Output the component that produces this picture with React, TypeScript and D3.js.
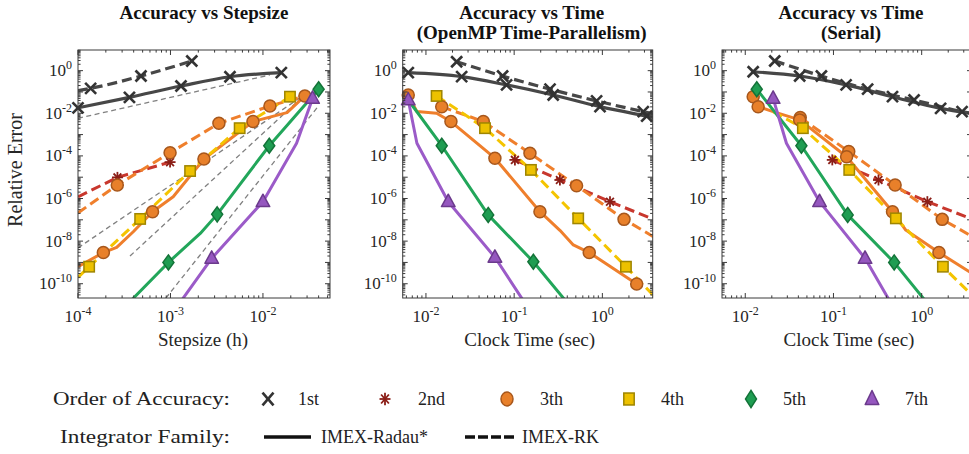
import React from "react";
import * as d3 from "d3";

// [x, y, hasMarker]
type Pt = [number, number, number];

const panelTitles: string[][] = [
  ["Accuracy vs Stepsize"],
  ["Accuracy vs Time", "(OpenMP Time-Parallelism)"],
  ["Accuracy vs Time", "(Serial)"],
];
const xAxisLabels = ["Stepsize (h)", "Clock Time (sec)", "Clock Time (sec)"];
const yAxisLabel = "Relative Error";
const xTickValues: number[][] = [
  [1e-4, 1e-3, 1e-2],
  [1e-2, 1e-1, 1e0],
  [1e-2, 1e-1, 1e0],
];
const xTickExp: string[][] = [
  ["-4", "-3", "-2"],
  ["-2", "-1", "0"],
  ["-2", "-1", "0"],
];
const yTickValues = [1e0, 1e-2, 1e-4, 1e-6, 1e-8, 1e-10];
const yTickExp = ["0", "-2", "-4", "-6", "-8", "-10"];

const orderNames = ["1st", "2nd", "3th", "4th", "5th", "7th"];
const familyNames = ["IMEX-Radau*", "IMEX-RK"];
const legendTitles = ["Order of Accuracy:", "Integrator Family:"];

// ---------- Panel 1: error vs stepsize ----------
const p1_o1_radau: Pt[] = [[1e-4, 1.8e-2, 1], [3.6e-4, 5.6e-2, 1], [1.3e-3, 0.19, 1], [4.4e-3, 0.52, 1], [1.58e-2, 0.81, 1]];
const p1_o1_rk: Pt[] = [[1e-4, 0.115, 0], [1.37e-4, 0.148, 1], [4.8e-4, 0.56, 1], [1.7e-3, 2.85, 1]];
const p1_o2_rk: Pt[] = [[1e-4, 1.2e-6, 0], [2.67e-4, 9.8e-6, 1], [9.9e-4, 5.1e-5, 1]];
const p1_o3_radau: Pt[] = [[1e-4, 6.3e-10, 0], [1.88e-4, 2.9e-9, 1], [2.62e-4, 5.1e-9, 0], [3.96e-4, 2.75e-8, 0], [6.4e-4, 2.4e-7, 1], [1.07e-3, 1.2e-6, 0], [2.3e-3, 7.1e-5, 1], [7.8e-3, 4.1e-3, 1], [1.82e-2, 1.07e-2, 0], [2.84e-2, 6.5e-2, 1]];
const p1_o3_rk: Pt[] = [[1e-4, 2.1e-7, 0], [2.66e-4, 4.3e-6, 1], [9.9e-4, 1.4e-4, 1], [3.34e-3, 3.4e-3, 1], [1.19e-2, 2.2e-2, 1], [2.84e-2, 6.5e-2, 0]];
const p1_o4_rk: Pt[] = [[1e-4, 2.0e-10, 0], [1.32e-4, 6.3e-10, 1], [4.7e-4, 1.1e-7, 1], [1.63e-3, 1.95e-5, 1], [5.6e-3, 2.0e-3, 1], [1.96e-2, 6.0e-2, 1]];
const p1_o5_radau: Pt[] = [[3.5e-4, 1.2e-11, 0], [9.5e-4, 1.0e-9, 1], [2.1e-3, 2.3e-8, 0], [3.2e-3, 1.8e-7, 1], [1.17e-2, 3.0e-4, 1], [4.0e-2, 0.135, 1]];
const p1_o7_radau: Pt[] = [[1.25e-3, 1.2e-11, 0], [2.79e-3, 1.55e-9, 1], [1.0e-2, 7.1e-7, 1], [2.31e-2, 3.9e-4, 0], [3.44e-2, 5.0e-2, 1]];
// reference slope lines (start, end)
const p1_refLines: [number, number][][] = [
  [[1e-4, 5.8e-3], [1.19e-2, 0.63]],
  [[1e-4, 4.8e-9], [2.5e-2, 5.2e-2]],
  [[3.65e-4, 2.0e-9], [2.5e-2, 4.5e-2]],
  [[8.9e-4, 2.1e-11], [3.84e-2, 1.8e-2]],
];

// ---------- Panel 2: error vs time (OpenMP) ----------
const p2_o1_radau: Pt[] = [[6.3e-3, 0.805, 1], [2.54e-2, 0.525, 1], [8.2e-2, 0.214, 1], [0.277, 7.2e-2, 1], [0.94, 2.04e-2, 1], [3.18, 7.4e-3, 1], [4.2, 5.9e-3, 0]];
const p2_o1_rk: Pt[] = [[2.23e-2, 2.63, 1], [7.4e-2, 0.56, 1], [0.255, 0.135, 1], [0.86, 3.8e-2, 1], [2.91, 1.2e-2, 1], [4.2, 8.7e-3, 0]];
const p2_o2_rk: Pt[] = [[0.102, 6.5e-5, 1], [0.33, 7.4e-6, 1], [1.22, 7.1e-7, 1], [4.2, 8.9e-8, 0]];
const p2_o3_radau: Pt[] = [[6.3e-3, 7.2e-2, 1], [7.9e-3, 1.2e-2, 0], [1.32e-2, 1.0e-2, 0], [1.92e-2, 4.1e-3, 1], [6.05e-2, 7.8e-5, 1], [0.196, 2.4e-7, 1], [0.33, 3.2e-8, 0], [0.468, 6.6e-9, 0], [0.71, 2.9e-9, 1], [2.45, 9.8e-11, 1]];
const p2_o3_rk: Pt[] = [[1.51e-2, 2.04e-2, 1], [4.47e-2, 4.1e-3, 1], [0.151, 1.32e-4, 1], [0.51, 4.0e-6, 1], [1.76, 1.05e-7, 1], [4.2, 1.26e-8, 0]];
const p2_o4_rk: Pt[] = [[1.32e-2, 6.5e-2, 1], [4.67e-2, 2.0e-3, 1], [0.155, 2.2e-5, 1], [0.532, 1.17e-7, 1], [1.85, 6.3e-10, 1], [4.2, 1.8e-11, 0]];
const p2_o5_radau: Pt[] = [[6.3e-3, 4.2e-2, 0], [1.51e-2, 3.0e-4, 1], [5.08e-2, 1.7e-7, 1], [0.165, 1.07e-9, 1], [0.405, 1.2e-11, 0]];
const p2_o7_radau: Pt[] = [[6.3e-3, 4.2e-2, 1], [7.9e-3, 3.9e-4, 0], [1.79e-2, 7.1e-7, 1], [6.05e-2, 1.74e-9, 1], [0.132, 1.26e-11, 0]];

// ---------- Panel 3: error vs time (serial) ----------
const p3_o1_radau: Pt[] = [[1.23e-2, 0.89, 1], [4.14e-2, 0.56, 1], [0.139, 0.214, 1], [0.467, 6.0e-2, 1], [1.64, 1.7e-2, 1], [4.2, 8.9e-3, 0]];
const p3_o1_rk: Pt[] = [[2.16e-2, 2.85, 1], [7.3e-2, 0.56, 1], [0.244, 0.135, 1], [0.82, 4.2e-2, 1], [2.87, 1.2e-2, 1], [4.2, 8.9e-3, 0]];
const p3_o2_rk: Pt[] = [[9.7e-2, 6.5e-5, 1], [0.324, 7.4e-6, 1], [1.16, 7.1e-7, 1], [4.2, 8.9e-8, 0]];
const p3_o3_radau: Pt[] = [[1.23e-2, 6.0e-2, 1], [1.4e-2, 2.04e-2, 1], [2.07e-2, 1.2e-2, 0], [4.14e-2, 4.9e-3, 1], [0.141, 9.1e-5, 1], [0.467, 2.4e-7, 1], [0.66, 3.3e-8, 0], [1.57, 2.9e-9, 1], [4.2, 2.2e-10, 0]];
const p3_o3_rk: Pt[] = [[4.2e-2, 6.3e-3, 1], [0.149, 1.6e-4, 1], [0.5, 4.3e-6, 1], [1.71, 1.05e-7, 1], [4.2, 1.26e-8, 0]];
const p3_o4_rk: Pt[] = [[2.07e-2, 1.2e-2, 0], [4.5e-2, 2.0e-3, 1], [0.151, 2.2e-5, 1], [0.51, 1.17e-7, 1], [1.74, 6.3e-10, 1], [4.2, 1.8e-11, 0]];
const p3_o5_radau: Pt[] = [[1.35e-2, 0.135, 1], [4.33e-2, 3.0e-4, 1], [0.145, 1.7e-7, 1], [0.488, 1.0e-9, 1], [1.15, 1.26e-11, 0]];
const p3_o7_radau: Pt[] = [[2.07e-2, 5.0e-2, 1], [2.93e-2, 3.9e-4, 0], [6.95e-2, 7.1e-7, 1], [0.228, 1.55e-9, 1], [0.447, 1.26e-11, 0]];

// series: [orderIndex, familyIndex(0 radau, 1 rk), points]
type Series = [number, number, Pt[]];
const panelSeries: Series[][] = [
  [[0, 0, p1_o1_radau], [0, 1, p1_o1_rk], [1, 1, p1_o2_rk], [2, 1, p1_o3_rk], [2, 0, p1_o3_radau], [3, 1, p1_o4_rk], [4, 0, p1_o5_radau], [5, 0, p1_o7_radau]],
  [[0, 0, p2_o1_radau], [0, 1, p2_o1_rk], [1, 1, p2_o2_rk], [2, 1, p2_o3_rk], [2, 0, p2_o3_radau], [3, 1, p2_o4_rk], [4, 0, p2_o5_radau], [5, 0, p2_o7_radau]],
  [[0, 0, p3_o1_radau], [0, 1, p3_o1_rk], [1, 1, p3_o2_rk], [2, 1, p3_o3_rk], [2, 0, p3_o3_radau], [3, 1, p3_o4_rk], [4, 0, p3_o5_radau], [5, 0, p3_o7_radau]],
];

const xDomains: [number, number][] = [[1e-4, 0.0531], [5.45e-3, 3.72], [5.45e-3, 3.72]];
const yDomain: [number, number] = [2.14e-11, 9.33];

// ---------- styles ----------
const W = 969, H = 454;
const TOP = 50, BOTTOM = 298;
const panelLeft = [78, 402.7, 722];
const panelWidth = [252, 250, 250];
const lineColors = ["#474747", "#C8372D", "#EF7F2C", "#F4C400", "#22A65A", "#9B5BC8"];
const markFill = ["none", "#8B1E17", "#E8802A", "#EDC100", "#1F9D52", "#9557BF"];
const markStroke = ["#333333", "#8B1E17", "#A7571C", "#9E8500", "#137338", "#6B3A8C"];
const FONT = "'Liberation Serif', 'Times New Roman', serif";
const AX = "#3a3a3a";

function Marker({ o, x, y, sy = 1 }: { o: number; x: number; y: number; sy?: number }) {
  const f = markFill[o], s = markStroke[o];
  if (o === 0) {
    const r = 5.5;
    return (
      <g stroke={s} strokeWidth={2.6} strokeLinecap="butt">
        <line x1={x - r} y1={y - r * sy} x2={x + r} y2={y + r * sy} />
        <line x1={x - r} y1={y + r * sy} x2={x + r} y2={y - r * sy} />
      </g>
    );
  }
  if (o === 1) {
    const r = 5.5;
    const a = r * 0.707;
    return (
      <g stroke={s} strokeWidth={1.8}>
        <line x1={x - r} y1={y} x2={x + r} y2={y} />
        <line x1={x} y1={y - r * sy} x2={x} y2={y + r * sy} />
        <line x1={x - a} y1={y - a * sy} x2={x + a} y2={y + a * sy} />
        <line x1={x - a} y1={y + a * sy} x2={x + a} y2={y - a * sy} />
      </g>
    );
  }
  if (o === 2) return <ellipse cx={x} cy={y} rx={6} ry={6 * sy} fill={f} stroke={s} strokeWidth={1.5} />;
  if (o === 3) return <rect x={x - 5.2} y={y - 5.2 * sy} width={10.4} height={10.4 * sy} fill={f} stroke={s} strokeWidth={1.5} />;
  if (o === 4) {
    const hw = 5.5, hh = 7.5 * sy;
    return <polygon points={`${x},${y - hh} ${x + hw},${y} ${x},${y + hh} ${x - hw},${y}`} fill={f} stroke={s} strokeWidth={1.5} />;
  }
  const hh = 6.5 * sy;
  return <polygon points={`${x},${y - hh - 1} ${x + 6.8},${y + hh * 0.75} ${x - 6.8},${y + hh * 0.75}`} fill={f} stroke={s} strokeWidth={1.5} strokeLinejoin="round" />;
}

function Panel({ idx }: { idx: number }) {
  const L = panelLeft[idx], R = L + panelWidth[idx];
  const x = d3.scaleLog().domain(xDomains[idx]).range([L, R]);
  const y = d3.scaleLog().domain(yDomain).range([BOTTOM, TOP]);
  const clipId = `clip${idx}`;
  const cx = (L + R) / 2;

  // minor/major ticks
  const xd = xDomains[idx];
  const xMajor: number[] = [], xMinor: number[] = [];
  for (let e = Math.floor(Math.log10(xd[0])); e <= Math.ceil(Math.log10(xd[1])); e++) {
    for (let m = 1; m <= 9; m++) {
      const v = m * Math.pow(10, e);
      if (v < xd[0] * 0.999 || v > xd[1] * 1.001) continue;
      (m === 1 ? xMajor : xMinor).push(v);
    }
  }
  const yMajor: number[] = [], yMinor: number[] = [];
  for (let e = -11; e <= 1; e++) {
    for (let m = 1; m <= 9; m++) {
      const v = m * Math.pow(10, e);
      if (v < yDomain[0] || v > yDomain[1]) continue;
      (m === 1 ? yMajor : yMinor).push(v);
    }
  }

  const lineGen = d3
    .line<Pt>()
    .x((p) => x(p[0]))
    .y((p) => y(p[1]));

  const series = panelSeries[idx];
  const refs = idx === 0 ? p1_refLines : [];

  return (
    <g>
      <defs>
        <clipPath id={clipId}>
          <rect x={L} y={TOP} width={R - L} height={BOTTOM - TOP} />
        </clipPath>
        {idx === 2 && (
          <clipPath id="labclip3">
            <rect x={683.5} y={0} width={50} height={H} />
          </clipPath>
        )}
      </defs>
      <rect x={L} y={TOP} width={R - L} height={BOTTOM - TOP} fill="#fff" />
      {/* reference lines */}
      <g clipPath={`url(#${clipId})`}>
        {refs.map((r, i) => (
          <line key={i} x1={x(r[0][0])} y1={y(r[0][1])} x2={x(r[1][0])} y2={y(r[1][1])} stroke="#808080" strokeWidth={1.3} strokeDasharray="5 3.5" />
        ))}
        {series.map(([o, fam, pts], i) => (
          <path
            key={i}
            d={(o === 0 ? lineGen.curve(d3.curveMonotoneX) : lineGen.curve(d3.curveLinear))(pts) || ""}
            fill="none"
            stroke={lineColors[o]}
            strokeWidth={o === 0 ? 3.2 : 3}
            strokeDasharray={fam === 1 ? "10 5" : undefined}
            strokeLinejoin="round"
          />
        ))}
      </g>
      {series.map(([o, , pts], i) => (
        <g key={i}>
          {pts
            .filter((p) => p[2] === 1)
            .map((p, j) => (
              <Marker key={j} o={o} x={x(p[0])} y={y(p[1])} />
            ))}
        </g>
      ))}
      {/* axes box and ticks */}
      <g stroke={AX} strokeWidth={1}>
        <rect x={L} y={TOP} width={R - L} height={BOTTOM - TOP} fill="none" />
        {xMajor.map((v, i) => (
          <g key={"xM" + i}>
            <line x1={x(v)} x2={x(v)} y1={BOTTOM} y2={BOTTOM - 5} />
            <line x1={x(v)} x2={x(v)} y1={TOP} y2={TOP + 5} />
          </g>
        ))}
        {xMinor.map((v, i) => (
          <g key={"xm" + i}>
            <line x1={x(v)} x2={x(v)} y1={BOTTOM} y2={BOTTOM - 2.6} />
            <line x1={x(v)} x2={x(v)} y1={TOP} y2={TOP + 2.6} />
          </g>
        ))}
        {yMajor.map((v, i) => (
          <g key={"yM" + i}>
            <line x1={L} x2={L + 5} y1={y(v)} y2={y(v)} />
            <line x1={R} x2={R - 5} y1={y(v)} y2={y(v)} />
          </g>
        ))}
        {yMinor.map((v, i) => (
          <g key={"ym" + i}>
            <line x1={L} x2={L + 2.6} y1={y(v)} y2={y(v)} />
            <line x1={R} x2={R - 2.6} y1={y(v)} y2={y(v)} />
          </g>
        ))}
      </g>
      {/* x tick labels */}
      <g fontFamily={FONT} fill="#262626" fontSize={17}>
        {xTickValues[idx].map((v, i) => (
          <text key={i} x={x(v)} y={322} textAnchor="middle">
            <tspan>10</tspan>
            <tspan dy={-7} fontSize={12}>{xTickExp[idx][i]}</tspan>
          </text>
        ))}
      </g>
      {/* y tick labels */}
      <g fontFamily={FONT} fill="#262626" fontSize={17} clipPath={idx === 2 ? "url(#labclip3)" : undefined}>
        {yTickValues.map((v, i) => (
          <text key={i} x={L - 6} y={y(v) + 5.5} textAnchor="end">
            <tspan>10</tspan>
            <tspan dy={-7} fontSize={12}>{yTickExp[i]}</tspan>
          </text>
        ))}
      </g>
      {/* titles */}
      <g fontFamily={FONT} fontWeight="bold" fontSize={19} fill="#111" textAnchor="middle">
        {panelTitles[idx].map((t, i) => (
          <text key={i} x={idx === 0 ? 204 : cx + 4} y={19 + i * 20}>
            {t}
          </text>
        ))}
      </g>
      <text x={idx === 0 ? 203 : cx + 2} y={346} textAnchor="middle" fontFamily={FONT} fontSize={19} fill="#262626">
        {xAxisLabels[idx]}
      </text>
      {idx === 0 && (
        <text transform="translate(22,170) rotate(-90)" textAnchor="middle" fontFamily={FONT} fontSize={20} fill="#262626">
          {yAxisLabel}
        </text>
      )}
    </g>
  );
}

const legendMarkerX = [268, 385, 507, 629, 751, 872];
const legendLabelX = [298, 418, 540, 661, 783, 905];

export default function App() {
  return (
    <svg width={W} height={H} style={{ position: "absolute", left: 0, top: 0, background: "#fff" }}>
      <rect x={0} y={0} width={W} height={H} fill="#fff" />
      {[0, 1, 2].map((i) => (
        <Panel key={i} idx={i} />
      ))}
      {/* legend */}
      <g fontFamily={FONT} fontSize={18} fill="#222">
        <text x={53} y={405} textLength={177} lengthAdjust="spacingAndGlyphs">
          {legendTitles[0]}
        </text>
        <text x={60} y={443} textLength={170} lengthAdjust="spacingAndGlyphs">
          {legendTitles[1]}
        </text>
        {orderNames.map((n, i) => (
          <g key={i}>
            <Marker o={i} x={legendMarkerX[i]} y={399} sy={1.15} />
            <text x={legendLabelX[i]} y={405}>
              {n}
            </text>
          </g>
        ))}
        <line x1={264} x2={311} y1={437} y2={437} stroke="#111" strokeWidth={3.5} />
        <text x={321} y={443}>{familyNames[0]}</text>
        <line x1={465} x2={515} y1={437} y2={437} stroke="#111" strokeWidth={3.5} strokeDasharray="10 3" />
        <text x={522} y={443}>{familyNames[1]}</text>
      </g>
    </svg>
  );
}
